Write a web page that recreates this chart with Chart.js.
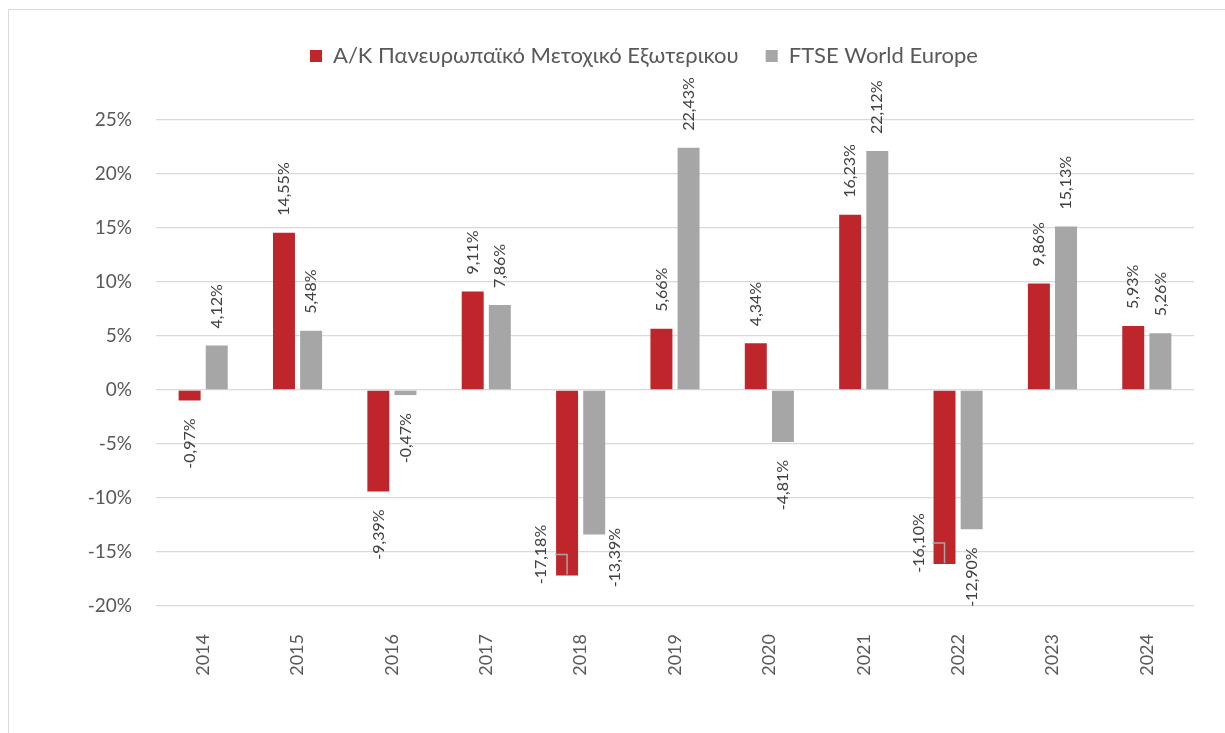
<!DOCTYPE html>
<html>
<head>
<meta charset="utf-8">
<script src="https://cdn.jsdelivr.net/npm/chart.js@4/dist/chart.umd.min.js"></script>
<style>
    body { margin: 0; background: #fff; }
    #wrap { position: relative; width: 1225px; height: 733px; overflow: hidden; }
    #frame { position: absolute; left: 8px; top: 9px; width: 1240px; height: 760px; border: 1px solid #d9d9d9; }
    #chart { position: absolute; left: 0; top: 0; }
</style>
</head>
<body>
<div id="wrap">
    <div id="frame"></div>
    <canvas id="chart" width="1225" height="733"></canvas>
</div>
<script>
// Yearly returns, fund vs benchmark
const years = ['2014', '2015', '2016', '2017', '2018', '2019', '2020', '2021', '2022', '2023', '2024'];
const fundReturns = [-0.97, 14.55, -9.39, 9.11, -17.18, 5.66, 4.34, 16.23, -16.10, 9.86, 5.93];
const indexReturns = [4.12, 5.48, -0.47, 7.86, -13.39, 22.43, -4.81, 22.12, -12.90, 15.13, 5.26];
const yTicks = [-20, -15, -10, -5, 0, 5, 10, 15, 20, 25];

const fundName = 'Α/Κ Πανευρωπαϊκό Μετοχικό Εξωτερικου';
const indexName = 'FTSE World Europe';

// labels Excel moved off the bar end (offset of the label centre from the bar end)
const movedLabels = [
    { ds: 0, idx: 4, dx: -26, dy: -21, leader: true },
    { ds: 0, idx: 8, dx: -26, dy: -21, leader: true },
    { ds: 1, idx: 4, dx: 21, dy: 23, leader: false }
];

const FONT = 'Lato, "Open Sans", sans-serif';

function fmtPct(v) {
    return v.toFixed(2).replace('.', ',') + '%';
}

const valueLabels = {
    id: 'valueLabels',
    afterDatasetsDraw(chart) {
        const ctx = chart.ctx;
        ctx.save();
        ctx.font = '16px ' + FONT;
        ctx.fillStyle = '#404040';
        ctx.textBaseline = 'middle';
        chart.data.datasets.forEach((ds, di) => {
            const meta = chart.getDatasetMeta(di);
            meta.data.forEach((bar, i) => {
                const v = ds.data[i];
                const text = fmtPct(v);
                const moved = movedLabels.find(m => m.ds === di && m.idx === i);
                ctx.save();
                if (moved) {
                    const lineY = bar.y + moved.dy;
                    if (moved.leader) {
                        ctx.strokeStyle = '#a6a6a6';
                        ctx.lineWidth = 1.5;
                        ctx.beginPath();
                        ctx.moveTo(bar.x - 12, lineY);
                        ctx.lineTo(bar.x, lineY);
                        ctx.lineTo(bar.x, bar.y - 1);
                        ctx.stroke();
                    }
                    ctx.translate(bar.x + moved.dx, lineY);
                    ctx.rotate(-Math.PI / 2);
                    ctx.textAlign = 'center';
                    ctx.fillText(text, 0, 0);
                } else if (v >= 0) {
                    ctx.translate(bar.x, bar.y - 17);
                    ctx.rotate(-Math.PI / 2);
                    ctx.textAlign = 'left';
                    ctx.fillText(text, 0, 0);
                } else {
                    ctx.translate(bar.x, bar.y + 18);
                    ctx.rotate(-Math.PI / 2);
                    ctx.textAlign = 'right';
                    ctx.fillText(text, 0, 0);
                }
                ctx.restore();
            });
        });
        ctx.restore();
    }
};

// keep the plot top at the 25% line and nudge the legend like Excel does
const legendGap = {
    id: 'legendGap',
    beforeInit(chart) {
        const fit = chart.legend.fit;
        chart.legend.fit = function () {
            fit.bind(chart.legend)();
            this.height = 102;
        };
    },
    afterLayout(chart) {
        chart.legend.left += 47;
        chart.legend.right += 47;
    }
};

new Chart(document.getElementById('chart').getContext('2d'), {
    type: 'bar',
    data: {
        labels: years,
        datasets: [
            {
                label: fundName,
                data: fundReturns,
                backgroundColor: '#be262c',
                categoryPercentage: 0.575,
                barPercentage: 0.81
            },
            {
                label: indexName,
                data: indexReturns,
                backgroundColor: '#a6a6a6',
                categoryPercentage: 0.575,
                barPercentage: 0.81
            }
        ]
    },
    options: {
        responsive: false,
        animation: false,
        layout: { padding: { top: 18, right: 31, left: 0, bottom: 0 } },
        plugins: {
            legend: {
                position: 'top',
                labels: {
                    color: '#595959',
                    font: { family: FONT, size: 22 },
                    boxWidth: 12,
                    boxHeight: 12,
                    padding: 27
                }
            },
            tooltip: { enabled: false }
        },
        scales: {
            x: {
                grid: { display: false },
                border: { display: false },
                ticks: {
                    color: '#595959',
                    font: { family: FONT, size: 18 },
                    minRotation: 90,
                    maxRotation: 90,
                    padding: 20
                },
                afterFit(scale) { scale.height = 127; }
            },
            y: {
                min: -20,
                max: 25,
                afterBuildTicks(scale) {
                    scale.ticks = yTicks.map(v => ({ value: v }));
                },
                grid: { color: '#d9d9d9', lineWidth: 1.3, drawTicks: false },
                border: { display: false },
                ticks: {
                    color: '#595959',
                    font: { family: FONT, size: 19 },
                    padding: 24,
                    callback: v => v + '%'
                },
                afterFit(scale) { scale.width = 156; }
            }
        }
    },
    plugins: [legendGap, valueLabels]
});
</script>
</body>
</html>
